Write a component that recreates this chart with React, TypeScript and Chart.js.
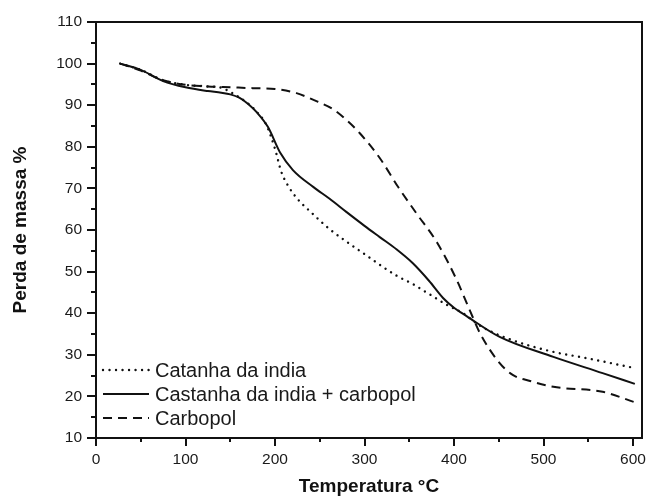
import React, { useEffect, useRef } from 'react';
import { Chart, registerables } from 'chart.js';

Chart.register(...registerables);

// ---- Data ----
const seriesLabels = ['Catanha da india', 'Castanha da india + carbopol', 'Carbopol'];

const tempCatanha = [27, 50, 75, 100, 125, 140, 150, 160, 170, 180, 190, 200, 207, 215, 225, 240, 261, 280, 298, 336, 354, 373, 392, 410, 429, 459, 511, 548, 602];
const massCatanha = [100, 98.5, 96, 94.9, 94.5, 94.2, 93.2, 91.9, 90.4, 88.3, 85.4, 79.5, 74, 70.5, 67.5, 64.3, 60.2, 57.2, 54.5, 49, 47, 44.5, 42, 40, 37, 34, 30.7, 29.2, 26.8];

const tempMix = [27, 50, 75, 100, 125, 140, 150, 160, 170, 180, 192, 206, 220, 243, 261, 280, 300, 317, 336, 354, 372, 388, 400, 414, 451, 511, 566, 602];
const massMix = [100, 98.5, 95.8, 94.3, 93.4, 93.0, 92.6, 91.8, 90.3, 88.2, 84.8, 78.5, 74.4, 70.3, 67.5, 64.3, 61, 58.3, 55.3, 52, 47.8, 43.6, 41.3, 39.3, 34.3, 29.5, 25.6, 23.0];

const tempCarbopol = [27, 50, 75, 100, 125, 150, 175, 200, 224, 250, 265, 280, 295, 317, 338, 358, 381, 403, 418, 429, 451, 466, 485, 511, 566, 602];
const massCarbopol = [100, 98.3, 96, 94.9, 94.5, 94.3, 94.1, 93.9, 92.9, 90.6, 89, 86.4, 83.2, 77.3, 70.2, 64, 57, 48, 40.5, 35.2, 28, 25.1, 23.7, 22.3, 21.1, 18.6];

const xTickValues = [0, 100, 200, 300, 400, 500, 600];
const yTickValues = [10, 20, 30, 40, 50, 60, 70, 80, 90, 100, 110];

const FONT = "'Liberation Sans', Arial, Helvetica, sans-serif";

const toPoints = (xs: number[], ys: number[]) => xs.map((t, i) => ({ x: t, y: ys[i] }));

const framePlugin = {
  id: 'frameTicksLegend',
  afterDraw(chart: any) {
    const { ctx, chartArea, scales } = chart;
    const { left, right, top, bottom } = chartArea;
    const xs = scales.x;
    const ys = scales.y;
    ctx.save();
    ctx.strokeStyle = '#111';
    ctx.lineWidth = 2;
    ctx.setLineDash([]);
    ctx.strokeRect(left, top, right - left, bottom - top);

    // y ticks (major every 10, minor every 5)
    for (let v = ys.min; v <= ys.max + 0.001; v += 5) {
      const py = Math.round(ys.getPixelForValue(v));
      const major = Math.abs(v % 10) < 0.001;
      const len = major ? 9 : 5;
      ctx.beginPath();
      ctx.moveTo(left - len, py);
      ctx.lineTo(left, py);
      ctx.stroke();
    }
    // x ticks (major every 100, minor every 50)
    for (let v = 0; v <= xs.max + 0.001; v += 50) {
      const px = Math.round(xs.getPixelForValue(v));
      const major = Math.abs(v % 100) < 0.001;
      const len = major ? 8 : 4;
      ctx.beginPath();
      ctx.moveTo(px, bottom);
      ctx.lineTo(px, bottom + len);
      ctx.stroke();
    }

    // legend
    const datasets = chart.data.datasets;
    const lx0 = left + 7;
    const lx1 = left + 53;
    const tx = left + 59;
    const rowY0 = bottom - 68;
    const rowGap = 24;
    ctx.font = `20px ${FONT}`;
    ctx.textBaseline = 'middle';
    ctx.textAlign = 'left';
    datasets.forEach((ds: any, i: number) => {
      const yy = rowY0 + i * rowGap;
      ctx.strokeStyle = ds.borderColor;
      ctx.lineWidth = ds.borderWidth;
      ctx.lineCap = ds.borderCapStyle || 'butt';
      ctx.setLineDash(ds.borderDash || []);
      ctx.beginPath();
      ctx.moveTo(lx0, yy);
      ctx.lineTo(lx1, yy);
      ctx.stroke();
      ctx.setLineDash([]);
      ctx.fillStyle = '#1a1a1a';
      ctx.fillText(ds.label, tx, yy + 1);
    });
    ctx.restore();
  },
};

export default function App() {
  const canvasRef = useRef<HTMLCanvasElement | null>(null);

  useEffect(() => {
    if (!canvasRef.current) return;
    const chart = new Chart(canvasRef.current, {
      type: 'line',
      data: {
        datasets: [
          {
            label: seriesLabels[0],
            data: toPoints(tempCatanha, massCatanha),
            borderColor: '#111',
            borderWidth: 2.4,
            borderDash: [0.01, 6.5],
            borderCapStyle: 'round',
            pointRadius: 0,
            cubicInterpolationMode: 'monotone',
            fill: false,
          },
          {
            label: seriesLabels[1],
            data: toPoints(tempMix, massMix),
            borderColor: '#111',
            borderWidth: 2,
            borderDash: [],
            pointRadius: 0,
            cubicInterpolationMode: 'monotone',
            fill: false,
          },
          {
            label: seriesLabels[2],
            data: toPoints(tempCarbopol, massCarbopol),
            borderColor: '#111',
            borderWidth: 2,
            borderDash: [9, 6],
            pointRadius: 0,
            cubicInterpolationMode: 'monotone',
            fill: false,
          },
        ],
      },
      options: {
        responsive: false,
        animation: false,
        devicePixelRatio: 1,
        layout: { padding: { top: 22, right: 5, left: 0, bottom: 0 } },
        plugins: {
          legend: { display: false },
          tooltip: { enabled: false },
        },
        scales: {
          x: {
            type: 'linear',
            min: 0,
            max: 610,
            afterFit: (scale: any) => {
              scale.height = 62;
              scale.paddingLeft = 0;
              scale.paddingRight = 0;
            },
            afterBuildTicks: (scale: any) => {
              scale.ticks = xTickValues.map((v) => ({ value: v }));
            },
            grid: { display: false, drawTicks: false },
            border: { display: false },
            ticks: {
              color: '#1a1a1a',
              font: { family: FONT, size: 15.5 },
              padding: 12.5,
              maxRotation: 0,
            },
            title: {
              display: true,
              text: 'Temperatura °C',
              color: '#111',
              font: { family: FONT, size: 19, weight: 'bold' },
              padding: { top: 0, bottom: 1.5 },
            },
          },
          y: {
            type: 'linear',
            min: 10,
            max: 110,
            afterFit: (scale: any) => {
              scale.width = 96;
              scale.paddingTop = 0;
              scale.paddingBottom = 0;
            },
            afterBuildTicks: (scale: any) => {
              scale.ticks = yTickValues.map((v) => ({ value: v }));
            },
            grid: { display: false, drawTicks: false },
            border: { display: false },
            ticks: {
              color: '#1a1a1a',
              font: { family: FONT, size: 15.5 },
              padding: 14,
            },
            title: {
              display: true,
              text: 'Perda de massa %',
              color: '#111',
              font: { family: FONT, size: 19, weight: 'bold' },
              padding: { top: 9, bottom: 0 },
            },
          },
        },
      } as any,
      plugins: [framePlugin],
    });
    return () => chart.destroy();
  }, []);

  return (
    <div style={{ position: 'absolute', left: 0, top: 0, width: 647, height: 500, background: '#fff' }}>
      <canvas ref={canvasRef} width={647} height={500} style={{ display: 'block', width: 647, height: 500 }} />
    </div>
  );
}
